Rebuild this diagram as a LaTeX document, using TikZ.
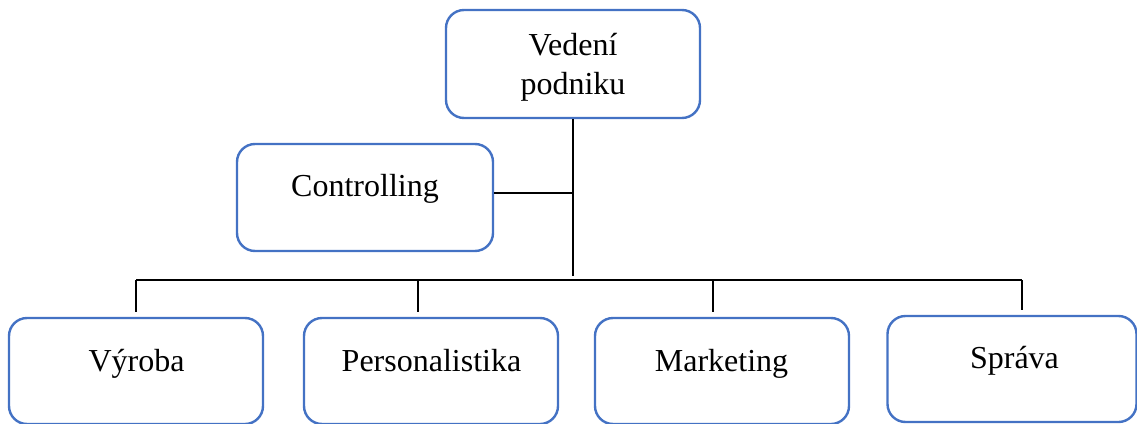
\documentclass[tikz,border=0pt]{standalone}
\usepackage{fontspec}
\setmainfont{Liberation Serif}
\begin{document}
\begin{tikzpicture}[x=1pt,y=-1pt,
  unit/.style={draw=boxblue,line width=2.4pt,rounded corners=18pt,fill=white,
    inner sep=0pt},
  dept/.style={unit,minimum width=254pt,minimum height=106pt},
  lbl/.style={font=\fontsize{32}{39}\selectfont,align=center,inner sep=0pt,anchor=base},
  link/.style={line width=2pt,black}]
\definecolor{boxblue}{HTML}{4472C4}
\useasboundingbox (0,0) rectangle (1137,423);
\begin{scope}
\clip (0,0) rectangle (1137,423);
% top management (base anchor = baseline of the last line)
\node[unit,minimum width=254pt,minimum height=108pt] (top) at (573,64) {};
\node[lbl] (toplbl) at (573,94) {Vedení\\podniku};
% staff unit
\node[unit,minimum width=256pt,minimum height=107pt] (ctrl) at (365,197.5) {};
\node[lbl] (ctrllbl) at (365,196.5) {Controlling};
% departments
\node[dept] (vyr) at (136,371) {};
\node[dept] (pers) at (431,371) {};
\node[dept] (mkt) at (722,371) {};
\node[dept,minimum width=249pt] (spr) at (1012,369) {};
\node[lbl] (vyrlbl) at (136.5,371) {Výroba};
\node[lbl] (perslbl) at (431.5,371) {Personalistika};
\node[lbl] (mktlbl) at (721.5,371) {Marketing};
\node[lbl] (sprlbl) at (1014.5,368.5) {Správa};
\end{scope}
% connectors
\coordinate (trunk) at (573,276);
\coordinate (busL) at (136,280);
\coordinate (busR) at (1022,280);
\coordinate (ctrlj) at (573,193);
\draw[link] (top.south) -- (trunk);
\draw[link] (ctrl.east |- ctrlj) -- (ctrlj);
\draw[link] (busL) -- (busR);
\draw[link,shorten >=5pt] (busL) -- (busL |- vyr.north);
\draw[link,shorten >=5pt] (418,280) -- (418,0 |- pers.north);
\draw[link,shorten >=5pt] (713,280) -- (713,0 |- mkt.north);
\draw[link,shorten >=5pt] (busR) -- (busR |- spr.north);
\end{tikzpicture}
\end{document}
